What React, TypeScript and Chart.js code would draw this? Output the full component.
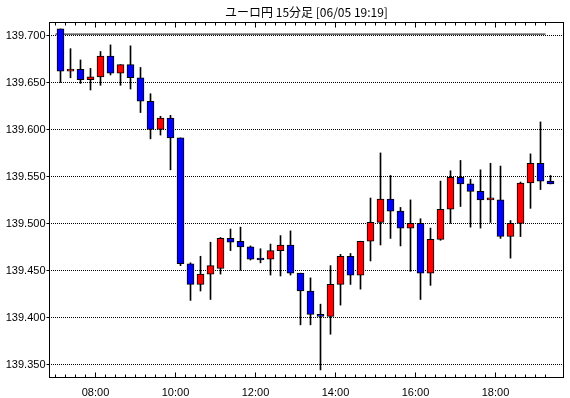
import { useEffect, useRef } from "react";
import { Chart, registerables } from "chart.js";

Chart.register(...registerables);

const chartTitle = "ユーロ円 15分足 [06/05 19:19]";

const times = [
  "07:00", "07:15", "07:30", "07:45", "08:00", "08:15", "08:30", "08:45",
  "09:00", "09:15", "09:30", "09:45", "10:00", "10:15", "10:30", "10:45",
  "11:00", "11:15", "11:30", "11:45", "12:00", "12:15", "12:30", "12:45",
  "13:00", "13:15", "13:30", "13:45", "14:00", "14:15", "14:30", "14:45",
  "15:00", "15:15", "15:30", "15:45", "16:00", "16:15", "16:30", "16:45",
  "17:00", "17:15", "17:30", "17:45", "18:00", "18:15", "18:30", "18:45",
  "19:00", "19:15",
];

const opens = [
  139.707, 139.662, 139.664, 139.653, 139.656, 139.678, 139.660, 139.669, 139.655, 139.630,
  139.600, 139.612, 139.591, 139.457, 139.435, 139.446, 139.452, 139.484, 139.481, 139.475,
  139.463, 139.462, 139.471, 139.477, 139.447, 139.428, 139.403, 139.401, 139.435, 139.465,
  139.445, 139.481, 139.501, 139.526, 139.513, 139.495, 139.500, 139.447, 139.483, 139.515,
  139.549, 139.542, 139.534, 139.525, 139.525, 139.486, 139.500, 139.543, 139.564, 139.545,
];
const highs = [
  139.707, 139.686, 139.674, 139.665, 139.683, 139.690, 139.669, 139.689, 139.666, 139.638,
  139.614, 139.615, 139.591, 139.458, 139.465, 139.480, 139.485, 139.494, 139.496, 139.476,
  139.473, 139.478, 139.487, 139.492, 139.447, 139.442, 139.414, 139.455, 139.467, 139.468,
  139.481, 139.527, 139.575, 139.551, 139.517, 139.525, 139.505, 139.495, 139.545, 139.556,
  139.567, 139.547, 139.557, 139.564, 139.561, 139.503, 139.544, 139.574, 139.608, 139.551,
];
const lows = [
  139.650, 139.655, 139.649, 139.642, 139.647, 139.658, 139.647, 139.643, 139.618, 139.590,
  139.594, 139.557, 139.455, 139.418, 139.428, 139.419, 139.446, 139.471, 139.450, 139.461,
  139.458, 139.445, 139.444, 139.445, 139.392, 139.392, 139.344, 139.382, 139.413, 139.435,
  139.430, 139.460, 139.477, 139.484, 139.476, 139.449, 139.419, 139.434, 139.482, 139.500,
  139.518, 139.496, 139.495, 139.501, 139.484, 139.463, 139.486, 139.516, 139.536, 139.542,
];
const closes = [
  139.662, 139.664, 139.653, 139.656, 139.678, 139.660, 139.669, 139.655, 139.630, 139.600,
  139.612, 139.591, 139.457, 139.435, 139.446, 139.455, 139.484, 139.480, 139.475, 139.462,
  139.461, 139.471, 139.477, 139.447, 139.428, 139.403, 139.401, 139.435, 139.465, 139.445,
  139.481, 139.501, 139.526, 139.513, 139.495, 139.500, 139.447, 139.483, 139.515, 139.549,
  139.542, 139.534, 139.525, 139.525, 139.486, 139.500, 139.543, 139.564, 139.545, 139.542,
];

const refLevel = 139.7015;

const yTickLabels = ["139.350", "139.400", "139.450", "139.500", "139.550", "139.600", "139.650", "139.700"];
const xTickLabels = ["08:00", "10:00", "12:00", "14:00", "16:00", "18:00"];

const UP = "#ff0000";
const DOWN = "#0000ff";
const LABEL_FONT = "11px 'Liberation Sans', Arial, sans-serif";
const TITLE_FONT = "12px 'Noto Sans CJK JP', sans-serif";

const toMin = (t: string) => {
  const [h, m] = t.split(":").map(Number);
  return h * 60 + m;
};
const HALF_PERIOD = 7.5;

const framePlugin = {
  id: "framePlugin",
  beforeDatasetsDraw(chart: any) {
    const { ctx, chartArea: a, scales } = chart;
    const ys = scales.y;
    ctx.save();
    ctx.strokeStyle = "#000";
    ctx.lineWidth = 1;
    ctx.setLineDash([1, 1]);
    for (const lab of yTickLabels) {
      const py = Math.floor(ys.getPixelForValue(parseFloat(lab))) + 0.5;
      ctx.beginPath();
      ctx.moveTo(a.left, py);
      ctx.lineTo(a.right, py);
      ctx.stroke();
    }
    ctx.restore();
  },
  afterDatasetsDraw(chart: any) {
    const { ctx, chartArea: a, scales } = chart;
    const xs = scales.x;
    const ys = scales.y;
    const L = Math.floor(a.left) + 0.5;
    const R = Math.floor(a.right) - 0.5;
    const T = Math.floor(a.top) - 0.5;
    const B = Math.floor(a.bottom) + 0.5;
    ctx.save();
    ctx.setLineDash([]);
    ctx.strokeStyle = "#000";
    ctx.lineWidth = 1;
    ctx.strokeRect(L, T, R - L, B - T);

    ctx.beginPath();
    for (let i = 13330; i <= 13720; i += 1) {
      if (i % 10 !== 0) continue;
      const v = i / 100;
      const py = Math.floor(ys.getPixelForValue(v)) + 0.5;
      if (py <= T + 1 || py >= B - 1) continue;
      ctx.moveTo(L, py);
      ctx.lineTo(L + 3, py);
      ctx.moveTo(R, py);
      ctx.lineTo(R - 3, py);
    }
    for (const lab of yTickLabels) {
      const py = Math.floor(ys.getPixelForValue(parseFloat(lab))) + 0.5;
      ctx.moveTo(L - 3, py);
      ctx.lineTo(L, py);
    }
    const t0 = toMin(times[0]);
    const t1 = toMin(times[times.length - 1]);
    for (let t = t0; t <= t1; t += 15) {
      const px = Math.floor(xs.getPixelForValue(t)) + 0.5;
      const major = t % 120 === 0;
      const len = major ? 5 : 3;
      ctx.moveTo(px, B);
      ctx.lineTo(px, B - len);
      ctx.moveTo(px, T);
      ctx.lineTo(px, T + len);
    }
    ctx.stroke();

    ctx.fillStyle = "#000";
    ctx.font = LABEL_FONT;
    ctx.textAlign = "right";
    ctx.textBaseline = "middle";
    for (const lab of yTickLabels) {
      const py = ys.getPixelForValue(parseFloat(lab));
      ctx.fillText(lab, L - 4, py + 0.5);
    }
    ctx.textAlign = "center";
    for (const lab of xTickLabels) {
      const px = xs.getPixelForValue(toMin(lab));
      ctx.fillText(lab, px, B + 15);
    }
    ctx.font = TITLE_FONT;
    ctx.fillText(chartTitle, (a.left + a.right) / 2, 12);
    ctx.restore();
  },
};

export default function App() {
  const ref = useRef<HTMLCanvasElement | null>(null);

  useEffect(() => {
    if (!ref.current) return;
    const wicks = times.map((t, i) => ({ x: toMin(t) + HALF_PERIOD, y: [lows[i], highs[i]] }));
    const bodies = times.map((t, i) => ({ x: toMin(t) + HALF_PERIOD, y: [opens[i], closes[i]] }));
    const bodyColors = times.map((_, i) => (closes[i] >= opens[i] ? UP : DOWN));
    const refData = [
      { x: toMin(times[0]), y: refLevel },
      { x: toMin(times[times.length - 1]), y: refLevel },
    ];

    const chart = new Chart(ref.current, {
      type: "bar",
      data: {
        datasets: [
          {
            type: "line",
            data: refData as any,
            borderColor: "#000",
            borderWidth: 1,
            pointRadius: 0,
            order: 3,
          } as any,
          {
            data: wicks as any,
            backgroundColor: "#000",
            borderWidth: 0,
            barThickness: 1,
            grouped: false,
            order: 2,
          } as any,
          {
            data: bodies as any,
            backgroundColor: bodyColors,
            borderColor: "#000",
            borderWidth: 1,
            borderSkipped: false,
            barThickness: 7,
            minBarLength: 2,
            grouped: false,
            order: 1,
          } as any,
        ],
      },
      options: {
        responsive: false,
        animation: false,
        devicePixelRatio: 1,
        layout: { padding: { left: 49, top: 23, right: 6, bottom: 21 } },
        plugins: {
          legend: { display: false },
          title: { display: false },
          tooltip: { enabled: false },
        },
        scales: {
          x: { type: "linear", min: 410.25, max: 1182.75, display: false, offset: false },
          y: { type: "linear", min: 139.33647, max: 139.71331, display: false },
        },
      },
      plugins: [framePlugin],
    });
    return () => chart.destroy();
  }, []);

  return (
    <div style={{ position: "fixed", left: 0, top: 0, width: 570, height: 398, background: "#fff" }}>
      <canvas ref={ref} width={570} height={398} style={{ width: 570, height: 398, display: "block" }} />
    </div>
  );
}
